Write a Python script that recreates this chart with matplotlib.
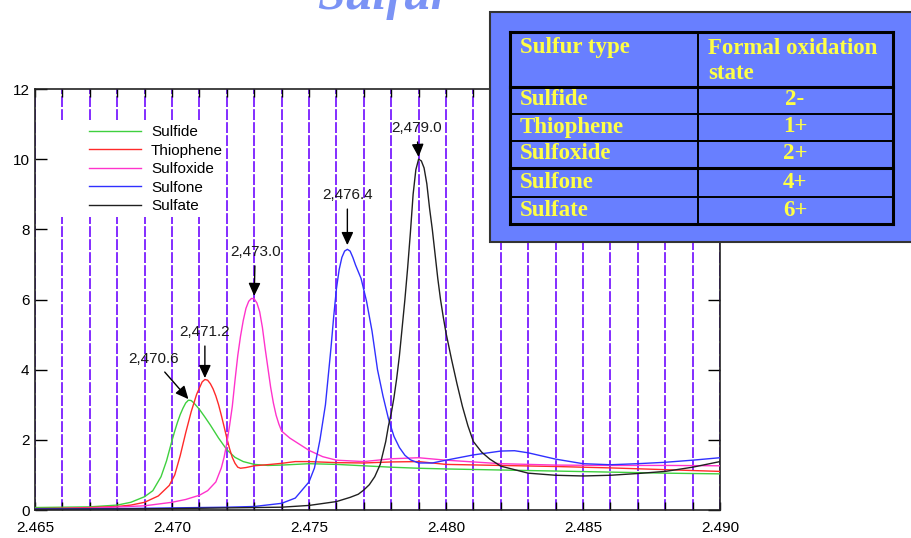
import matplotlib
matplotlib.use("Agg")
import matplotlib.pyplot as plt
from matplotlib.patches import Rectangle
from matplotlib.lines import Line2D
from matplotlib.ticker import MultipleLocator, FixedLocator

plt.rcParams['font.family'] = ['Liberation Sans', 'DejaVu Sans']

# ---------------- data ----------------
series_names = ["Sulfide", "Thiophene", "Sulfoxide", "Sulfone", "Sulfate"]

sulfide_x = [2.465, 2.466, 2.467, 2.468, 2.4685, 2.469, 2.4693, 2.4696, 2.4698, 2.4700, 2.4701,
             2.4702, 2.4703, 2.4704, 2.4705, 2.4706, 2.4707, 2.4708, 2.4710, 2.4712, 2.4714,
             2.4717, 2.472, 2.4723, 2.4726, 2.473, 2.4735, 2.474, 2.475, 2.476, 2.477, 2.478,
             2.479, 2.480, 2.482, 2.484, 2.486, 2.488, 2.490]
sulfide_y = [0.07, 0.08, 0.09, 0.14, 0.22, 0.38, 0.55, 0.95, 1.4, 1.98, 2.25,
             2.5, 2.72, 2.9, 3.05, 3.13, 3.12, 3.05, 2.87, 2.65, 2.42,
             2.05, 1.72, 1.5, 1.38, 1.3, 1.27, 1.28, 1.32, 1.3, 1.26, 1.22,
             1.19, 1.17, 1.14, 1.11, 1.08, 1.05, 1.03]

thiophene_x = [2.465, 2.466, 2.467, 2.468, 2.4685, 2.469, 2.4695, 2.4699, 2.4701, 2.4703, 2.4705,
               2.4707, 2.4709, 2.4711, 2.4712, 2.4713, 2.4714, 2.4715, 2.4716, 2.4717, 2.4718,
               2.4719, 2.472, 2.4721, 2.4722, 2.4723, 2.4724, 2.4725, 2.4727, 2.473, 2.4733,
               2.4736, 2.474, 2.4745, 2.475, 2.476, 2.477, 2.478, 2.479, 2.480, 2.482, 2.484,
               2.486, 2.488, 2.490]
thiophene_y = [0.04, 0.05, 0.07, 0.1, 0.14, 0.22, 0.4, 0.7, 1.0, 1.55, 2.2,
               2.8, 3.3, 3.65, 3.72, 3.7, 3.6, 3.45, 3.25, 3.0, 2.7,
               2.38, 2.05, 1.75, 1.5, 1.33, 1.22, 1.19, 1.21, 1.26, 1.28,
               1.3, 1.33, 1.38, 1.38, 1.35, 1.34, 1.37, 1.38, 1.3, 1.27, 1.24,
               1.2, 1.15, 1.1]

sulfoxide_x = [2.465, 2.467, 2.469, 2.470, 2.4705, 2.471, 2.4713, 2.4716, 2.4718, 2.4719, 2.4720,
               2.4721, 2.4722, 2.4723, 2.4724, 2.4725, 2.4726, 2.4727, 2.4728, 2.4729, 2.4730,
               2.4731, 2.4732, 2.4733, 2.4734, 2.4735, 2.4736, 2.4737, 2.4738, 2.4739, 2.474,
               2.4743, 2.4746, 2.475, 2.4755, 2.476, 2.477, 2.478, 2.479, 2.480, 2.481, 2.482,
               2.484, 2.486, 2.488, 2.490]
sulfoxide_y = [0.03, 0.05, 0.12, 0.22, 0.3, 0.42, 0.55, 0.8, 1.2, 1.5, 1.9,
               2.4, 2.95, 3.7, 4.4, 4.95, 5.4, 5.75, 5.95, 6.03, 6.02,
               5.9, 5.65, 5.2, 4.6, 4.05, 3.5, 3.05, 2.7, 2.45, 2.25,
               2.05, 1.9, 1.7, 1.52, 1.42, 1.38, 1.46, 1.49, 1.42, 1.37, 1.32,
               1.28, 1.27, 1.27, 1.26]

sulfone_x = [2.465, 2.468, 2.470, 2.472, 2.473, 2.474, 2.4745, 2.475, 2.4752, 2.4754, 2.4755,
             2.4756, 2.4757, 2.4758, 2.4759, 2.476, 2.4761, 2.4762, 2.4763, 2.4764, 2.4765,
             2.4766, 2.4767, 2.4769, 2.4771, 2.4773, 2.4775, 2.4777, 2.4779, 2.4781, 2.4783,
             2.4785, 2.4787, 2.479, 2.4795, 2.480, 2.481, 2.482, 2.4825, 2.483, 2.484, 2.485,
             2.486, 2.487, 2.488, 2.489, 2.490]
sulfone_y = [0.03, 0.04, 0.06, 0.08, 0.1, 0.19, 0.34, 0.8, 1.2, 2.0, 2.5,
             3.0, 3.8, 4.6, 5.5, 6.3, 6.85, 7.2, 7.38, 7.43, 7.38,
             7.2, 6.98, 6.6, 5.95, 5.1, 4.0, 3.25, 2.6, 2.1, 1.78,
             1.56, 1.43, 1.34, 1.34, 1.42, 1.57, 1.68, 1.69, 1.63, 1.45, 1.32,
             1.29, 1.32, 1.36, 1.42, 1.49]

sulfate_x = [2.465, 2.468, 2.470, 2.472, 2.474, 2.475, 2.476, 2.4765, 2.4768, 2.477, 2.4772,
             2.4774, 2.4776, 2.4778, 2.4779, 2.478, 2.4781, 2.4782, 2.4783, 2.4784, 2.4785,
             2.4786, 2.4787, 2.4788, 2.4789, 2.4790, 2.4791, 2.4792, 2.4793, 2.4794, 2.4795,
             2.4796, 2.4797, 2.4798, 2.4799, 2.4800, 2.4802, 2.4804, 2.4806, 2.4808, 2.481,
             2.4813, 2.4816, 2.482, 2.483, 2.484, 2.485, 2.486, 2.487, 2.488, 2.489, 2.490]
sulfate_y = [0.02, 0.03, 0.04, 0.06, 0.08, 0.13, 0.24, 0.36, 0.45, 0.57, 0.72,
             0.95, 1.3, 1.95, 2.4, 2.75, 3.2, 3.75, 4.4, 5.2, 6.0,
             6.9, 7.9, 9.0, 9.7, 10.0, 9.95, 9.75, 9.3, 8.6, 8.0,
             7.3, 6.6, 6.0, 5.5, 5.05, 4.3, 3.6, 2.95, 2.4, 1.95,
             1.65, 1.45, 1.25, 1.05, 0.99, 0.97, 0.99, 1.04, 1.1, 1.22, 1.38]

peak_labels = ["2,470.6", "2,471.2", "2,473.0", "2,476.4", "2,479.0"]
peak_x = [2.4706, 2.4712, 2.4730, 2.4764, 2.4790]
peak_y = [3.16, 3.76, 6.1, 7.55, 10.06]

table_header = ["Sulfur type", "Formal oxidation\nstate"]
table_types = ["Sulfide", "Thiophene", "Sulfoxide", "Sulfone", "Sulfate"]
table_states = ["2-", "1+", "2+", "4+", "6+"]

x_ticks = [2.465, 2.470, 2.475, 2.480, 2.485, 2.490]
x_tick_labels = ["2.465", "2.470", "2.475", "2.480", "2.485", "2.490"]
y_ticks = [0, 2, 4, 6, 8, 10, 12]

# ---------------- figure ----------------
W, H = 911, 538
fig = plt.figure(figsize=(W / 100, H / 100), dpi=100)
fig.patch.set_facecolor('white')

def fx(px):
    return px / W

def fy(py):
    return 1 - py / H

ax = fig.add_axes([fx(35), fy(510), (720 - 35) / W, (510 - 89) / H])
ax.set_xlim(2.465, 2.490)
ax.set_ylim(0, 12)

colors = ['#3fd03f', '#ff2a2a', '#ff33cc', '#3030ff', '#202020']
xs = [sulfide_x, thiophene_x, sulfoxide_x, sulfone_x, sulfate_x]
ys = [sulfide_y, thiophene_y, sulfoxide_y, sulfone_y, sulfate_y]
for name, x, y, c in zip(series_names, xs, ys, colors):
    ax.plot(x, y, color=c, lw=1.0, label=name, zorder=3, solid_joinstyle='round')

ax.xaxis.set_major_locator(FixedLocator(x_ticks))
ax.set_xticklabels(x_tick_labels)
ax.xaxis.set_minor_locator(MultipleLocator(0.001))
ax.yaxis.set_major_locator(FixedLocator(y_ticks))
ax.grid(which='both', axis='x', color='#7a1cff', lw=1.3, linestyle=(0, (6, 1.2)), zorder=1)
ax.set_axisbelow(True)

ax.tick_params(axis='x', which='both', direction='in', top=True, bottom=True,
               length=6, width=1.0, labelsize=11, pad=8, colors='black')
ax.tick_params(axis='y', which='both', direction='in', left=True, right=True,
               length=8.5, width=1.0, labelsize=11, pad=4)
for sp in ax.spines.values():
    sp.set_linewidth(1.2)
    sp.set_color('#222222')

# white patch behind legend (hides gridlines)
ax.add_patch(Rectangle(((58 - 35) / 685, (510 - 217) / 421), (224 - 58) / 685, (217 - 122) / 421,
                       transform=ax.transAxes, facecolor='white', edgecolor='none', zorder=2))
leg = ax.legend(loc='upper left', bbox_to_anchor=((89 - 35) / 685, (510 - 125) / 421),
                frameon=False, fontsize=11, handlelength=3.4, handletextpad=0.65,
                labelspacing=0.3, borderpad=0, borderaxespad=0)
leg.set_zorder(4)

# peak annotations
offsets = [(-35, 40), (0, 46), (1, 44), (0, 50), (-2, 29)]
for lab, px_, py_, off in zip(peak_labels, peak_x, peak_y, offsets):
    ax.annotate(lab, xy=(px_, py_), xytext=off, textcoords='offset pixels',
                ha='center', va='center', fontsize=11, color='#1a1a1a', zorder=5,
                arrowprops=dict(arrowstyle='-|>,head_length=0.65,head_width=0.3',
                                color='black', lw=1.0, shrinkA=3, shrinkB=0,
                                mutation_scale=12))

# title (cut off at top, as in the reference)
fig.text(fx(384), fy(9), 'Sulfur', ha='center', va='baseline', fontsize=36,
         family='Liberation Serif', style='italic', fontweight='bold', color='#7b93f5')

# ---------------- table box ----------------
blue = '#687fff'
fig.add_artist(Rectangle((fx(490), fy(242)), (915 - 490) / W, (242 - 12) / H,
                         transform=fig.transFigure, facecolor=blue, edgecolor='#333333',
                         lw=1.5, zorder=10))

def hline(y, x0, x1, lw):
    fig.add_artist(Line2D([fx(x0), fx(x1)], [fy(y), fy(y)], transform=fig.transFigure,
                          color='black', lw=lw, zorder=11, solid_capstyle='projecting'))

def vline(x, y0, y1, lw):
    fig.add_artist(Line2D([fx(x), fx(x)], [fy(y0), fy(y1)], transform=fig.transFigure,
                          color='black', lw=lw, zorder=11, solid_capstyle='projecting'))

tl, tr, tt, tb = 510, 893, 32, 224
colx = 698
row_lines = [87, 114, 141, 168, 197]
row_lw = [2.2, 1.4, 1.4, 2.2, 1.4]
hline(tt, tl, tr, 2.2)
hline(tb, tl, tr, 2.2)
vline(tl, tt, tb, 2.2)
vline(tr, tt, tb, 2.2)
vline(colx, tt, tb, 1.4)
for yl, lw in zip(row_lines, row_lw):
    hline(yl, tl, tr, lw)

yellow = '#ffff45'
tkw = dict(family='Liberation Serif', fontweight='bold', color=yellow, fontsize=16.5, zorder=12)
fig.text(fx(520), fy(48), table_header[0], ha='left', va='center', **tkw)
fig.text(fx(708), fy(61), table_header[1], ha='left', va='center', linespacing=1.3, **tkw)
row_centers = [100, 127, 154, 183, 211]
for t, s, yc in zip(table_types, table_states, row_centers):
    fig.text(fx(520), fy(yc), t, ha='left', va='center', **tkw)
    fig.text(fx(795), fy(yc), s, ha='center', va='center', **tkw)

fig.savefig('out.png', dpi=100)
